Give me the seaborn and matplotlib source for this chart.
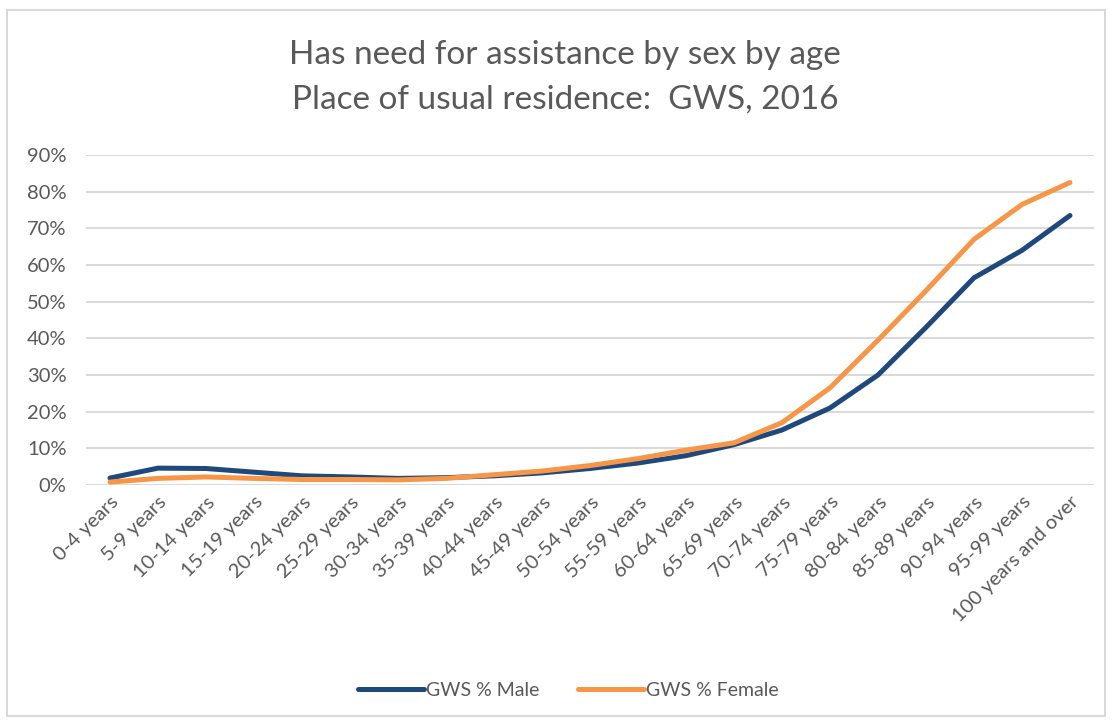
import matplotlib
matplotlib.use("Agg")
import matplotlib.pyplot as plt
import matplotlib.ticker as mticker
from matplotlib.patches import Rectangle
from matplotlib.lines import Line2D
import seaborn as sns
import pandas as pd

categories = ["0-4 years", "5-9 years", "10-14 years", "15-19 years", "20-24 years",
              "25-29 years", "30-34 years", "35-39 years", "40-44 years", "45-49 years",
              "50-54 years", "55-59 years", "60-64 years", "65-69 years", "70-74 years",
              "75-79 years", "80-84 years", "85-89 years", "90-94 years", "95-99 years",
              "100 years and over"]
male = [1.9, 4.6, 4.5, 3.5, 2.5, 2.2, 1.8, 2.0, 2.5, 3.3, 4.5, 6.0, 8.0, 11.0,
        15.0, 21.0, 30.0, 43.0, 56.5, 64.0, 73.5]
female = [0.8, 1.8, 2.2, 1.8, 1.5, 1.5, 1.4, 1.8, 2.8, 3.8, 5.3, 7.2, 9.5, 11.5,
          17.0, 26.5, 39.5, 53.0, 67.0, 76.5, 82.5]
series_names = ["GWS % Male", "GWS % Female"]
colors = ["#1F497D", "#F79646"]

df = pd.DataFrame({
    "age": categories * 2,
    "pos": list(range(len(categories))) * 2,
    "value": [v / 100 for v in male] + [v / 100 for v in female],
    "series": [series_names[0]] * len(categories) + [series_names[1]] * len(categories),
})

sns.set_theme(style="white")
plt.rcParams['font.family'] = ['Lato', 'DejaVu Sans']

fig = plt.figure(figsize=(11.13, 7.25), dpi=100)
ax = fig.add_axes([86 / 1113, 1 - 485 / 725, (1094 - 86) / 1113, (485 - 155) / 725])

sns.lineplot(data=df, x="pos", y="value", hue="series", palette=colors,
             linewidth=3.6, ax=ax, legend=False, solid_capstyle="round")

ax.set_xlim(-0.5, len(categories) - 0.5)
ax.set_ylim(0, 0.9)
ax.yaxis.set_major_locator(mticker.MultipleLocator(0.1))
ax.yaxis.set_major_formatter(mticker.PercentFormatter(1.0, decimals=0))
ax.set_xticks(range(len(categories)))
ax.set_xticklabels(categories, rotation=45, ha="right", rotation_mode="anchor")
ax.tick_params(axis="x", labelsize=14.5, labelcolor="#595959", length=0, pad=6)
ax.tick_params(axis="y", labelsize=14.5, labelcolor="#595959", length=0, pad=14)
ax.grid(axis="y", color="#D9D9D9", linewidth=1.4)
ax.set_axisbelow(True)
for s in ax.spines.values():
    s.set_visible(False)
ax.set_xlabel("")
ax.set_ylabel("")

fig.text(565 / 1113, 1 - 55 / 725, "Has need for assistance by sex by age",
         ha="center", va="center", fontsize=24, color="#595959")
fig.text(565 / 1113, 1 - 100 / 725, "Place of usual residence:  GWS, 2016",
         ha="center", va="center", fontsize=24, color="#595959")

handles = [Line2D([0], [0], color=c, linewidth=3.6, solid_capstyle="round") for c in colors]
fig.legend(handles, series_names, loc="center", bbox_to_anchor=(568 / 1113, 1 - 690 / 725),
           ncol=2, frameon=False, fontsize=14, labelcolor="#595959",
           handlelength=3.4, handletextpad=0.1, columnspacing=2.0)

fig.patches.append(Rectangle((7 / 1113, 1 - 716 / 725), (1105 - 7) / 1113, (716 - 10) / 725,
                             transform=fig.transFigure, fill=False,
                             edgecolor="#D9D9D9", linewidth=1.5))

fig.savefig("out.png", dpi=100)
